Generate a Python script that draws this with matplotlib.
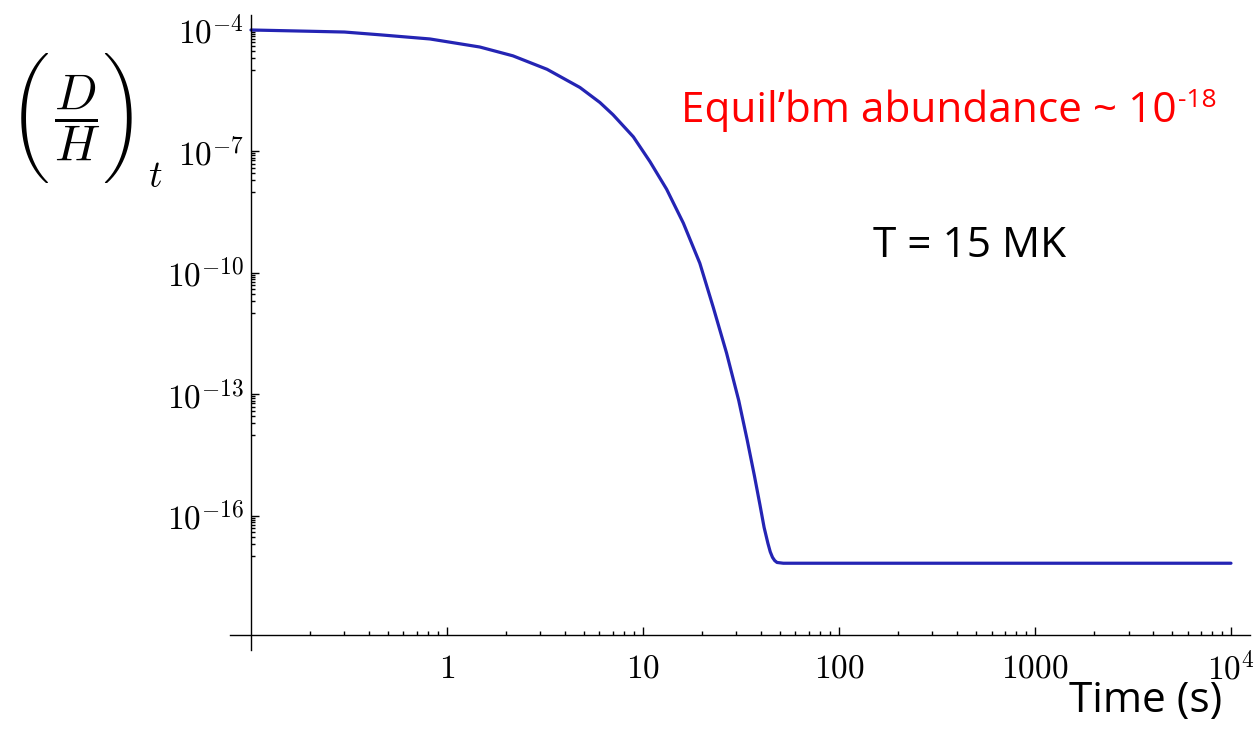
import os
import numpy as np
import matplotlib
matplotlib.use("Agg")
from matplotlib import pyplot as plt
from matplotlib.ticker import FixedLocator, NullFormatter
from matplotlib.font_manager import FontProperties

plt.rcParams['mathtext.fontset'] = 'cm'

# curve: time (s) and D/H abundance
t_s = [0.1, 0.2, 0.3, 0.455, 0.819, 1.47, 2.17, 3.24, 4.77, 6.03, 7.03,
       8.93, 10.86, 13.2, 16.07, 19.5, 22.85, 26.7, 30.8, 34.0, 37.0, 39.5,
       41.5, 43.4, 44.6, 45.8, 47.0, 48.3, 52.0, 60.0, 100.0, 1000.0,
       10000.0]
dh = [1.0e-4, 9.3e-5, 8.9e-5, 7.6e-5, 6.0e-5, 3.8e-5, 2.3e-5, 1.07e-5,
      3.8e-6, 1.62e-6, 8.1e-7, 2.3e-7, 5.6e-8, 1.17e-8, 1.7e-9, 1.74e-10,
      1.4e-11, 1.05e-12, 7.1e-14, 7.6e-15, 1.0e-15, 1.9e-16, 5.2e-17,
      2.1e-17, 1.3e-17, 9.5e-18, 7.9e-18, 7.1e-18, 6.8e-18, 6.8e-18,
      6.8e-18, 6.8e-18, 6.8e-18]

x_ticks = [1, 10, 100, 1000, 10000]
x_labels = ['$1$', '$10$', '$100$', '$1000$', '$10^4$']
y_ticks = [1e-16, 1e-13, 1e-10, 1e-7, 1e-4]
y_labels = ['$10^{-16}$', '$10^{-13}$', '$10^{-10}$', '$10^{-7}$', '$10^{-4}$']

W, H = 1256, 744
fig = plt.figure(figsize=(W / 100, H / 100), dpi=100)
ax = fig.add_axes([230 / W, 94 / H, 1020 / W, 635 / H])

ax.plot(t_s, dh, color='#2424b4', lw=2.3, solid_capstyle='round',
        solid_joinstyle='round')

ax.set_xscale('log')
ax.set_yscale('log')
ax.set_xlim(10 ** -1.107, 10 ** 4.097)
ax.set_ylim(10 ** -19.31, 10 ** -3.63)

# Mathematica style axes crossing at (0.1, ~1e-19)
for s in ('top', 'right'):
    ax.spines[s].set_visible(False)
ax.spines['left'].set_position(('data', 0.1))
ax.spines['bottom'].set_position(('data', 10 ** -18.94))
for s in ('left', 'bottom'):
    ax.spines[s].set_linewidth(1.0)

ax.xaxis.set_major_locator(FixedLocator(x_ticks))
ax.set_xticklabels(x_labels)
x_minor = [k * 10.0 ** e for e in range(-1, 4) for k in range(2, 10)]
ax.xaxis.set_minor_locator(FixedLocator(x_minor))
ax.xaxis.set_minor_formatter(NullFormatter())

ax.yaxis.set_major_locator(FixedLocator(y_ticks))
ax.set_yticklabels(y_labels)
y_minor = [k * 10.0 ** (m - 1) for m in (-4, -7, -10, -13, -16) for k in range(1, 10)]
ax.yaxis.set_minor_locator(FixedLocator(y_minor))
ax.yaxis.set_minor_formatter(NullFormatter())

ax.tick_params(which='both', direction='in', width=1.0)
ax.tick_params(which='major', length=6)
ax.tick_params(which='minor', length=3)
ax.tick_params(axis='x', which='major', labelsize=24, pad=12)
ax.tick_params(axis='y', which='major', labelsize=24, pad=5)

# y label (D/H)_t built from pieces so the brackets come out tall
cmex = FontProperties(fname=os.path.join(matplotlib.get_data_path(),
                                         'fonts', 'ttf', 'cmex10.ttf'),
                      size=39)
fig.text(30 / W, 1 - 118 / H, '\xb5', fontproperties=cmex,
         ha='center', va='center')
fig.text(122 / W, 1 - 118 / H, '\xb6', fontproperties=cmex,
         ha='center', va='center')
fig.text(77 / W, 1 - 118 / H, r'$\dfrac{D}{H}$', fontsize=36,
         ha='center', va='center')
fig.text(148 / W, 1 - 187 / H, '$t$', fontsize=27, ha='left', va='baseline')

sans = ['Open Sans', 'DejaVu Sans']
eq = fig.text(681 / W, 1 - 122 / H, 'Equil\u2019bm abundance ~ 10',
              color='red', fontsize=30.5, family=sans, va='baseline')
ax.annotate('-18', xy=(1, 1), xycoords=eq, xytext=(1, 1),
            textcoords='offset points', color='red', fontsize=19,
            family=sans, va='top', ha='left')
fig.text(873 / W, 1 - 257 / H, 'T = 15 MK', color='black', fontsize=30.5,
         family=sans, va='baseline')
fig.text(1222 / W, 1 - 712 / H, 'Time (s)', color='black', fontsize=30.5,
         family=sans, va='baseline', ha='right')

fig.savefig('out.png', dpi=100)
